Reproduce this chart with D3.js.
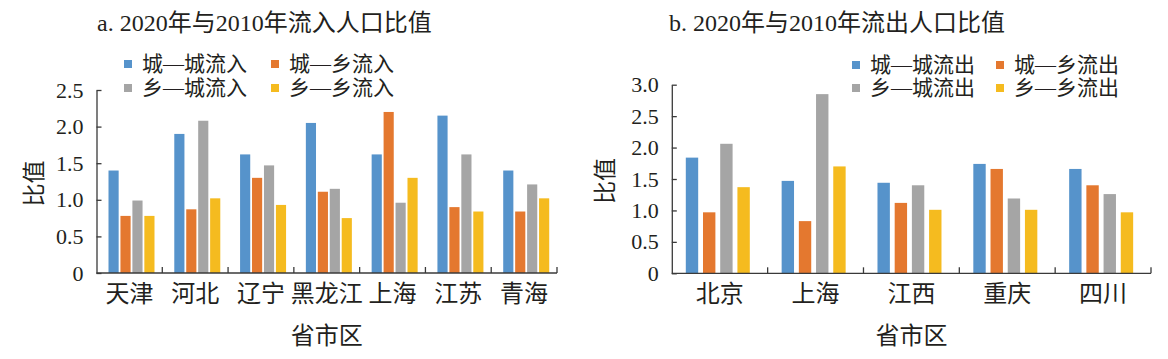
<!DOCTYPE html>
<html>
<head>
<meta charset="utf-8">
<script src="https://cdn.jsdelivr.net/npm/d3@7"></script>
<style>
body { margin: 0; background: #fff; }
svg text { font-family: "Liberation Serif", "Noto Sans CJK SC", serif; fill: #231f20; }
.axis path, .axis line { stroke: #3a3a3a; stroke-width: 1.3px; }
</style>
</head>
<body>
<svg id="chart" width="1168" height="359"></svg>
<script>

// panel a: inflow
var citiesIn = ["天津", "河北", "辽宁", "黑龙江", "上海", "江苏", "青海"];
var inUU = [1.40, 1.90, 1.62, 2.05, 1.62, 2.15, 1.40];
var inUR = [0.78, 0.87, 1.30, 1.11, 2.20, 0.90, 0.84];
var inRU = [0.99, 2.08, 1.47, 1.15, 0.96, 1.62, 1.21];
var inRR = [0.78, 1.02, 0.93, 0.75, 1.30, 0.84, 1.02];
var namesIn = ["城—城流入", "城—乡流入", "乡—城流入", "乡—乡流入"];
var ticksIn = [0, 0.5, 1.0, 1.5, 2.0, 2.5];

// panel b: outflow
var citiesOut = ["北京", "上海", "江西", "重庆", "四川"];
var outUU = [1.84, 1.47, 1.44, 1.74, 1.66];
var outUR = [0.97, 0.83, 1.12, 1.66, 1.40];
var outRU = [2.06, 2.85, 1.40, 1.19, 1.26];
var outRR = [1.37, 1.70, 1.01, 1.01, 0.97];
var namesOut = ["城—城流出", "城—乡流出", "乡—城流出", "乡—乡流出"];
var ticksOut = [0, 0.5, 1.0, 1.5, 2.0, 2.5, 3.0];

var colors = ["#5693cb", "#e4782f", "#a5a5a5", "#f5bb1f"];

var svg = d3.select("#chart");
var fmt = function(d) { return d === 0 ? "0" : d3.format(".1f")(d); };

function drawPanel(p) {
  var g = svg.append("g");

  var x = d3.scaleBand().domain(p.cats).range([p.left, p.right]);
  var inner = d3.scaleBand().domain(d3.range(4))
      .range(p.inner).paddingInner(p.pad);
  var y = d3.scaleLinear().domain([0, p.max]).range([p.bottom, p.top]);

  /// bars
  p.series.forEach(function(vals, s) {
    g.append("g").selectAll("rect")
      .data(vals)
      .join("rect")
        .attr("x", function(d, i) { return x(p.cats[i]) + inner(s); })
        .attr("y", function(d) { return y(d); })
        .attr("width", inner.bandwidth())
        .attr("height", function(d) { return p.bottom - y(d); })
        .attr("fill", colors[s]);
  });

  /// y axis, ticks inside
  var ya = g.append("g")
      .attr("class", "axis")
      .attr("transform", "translate(" + p.left + ",0)")
      .call(d3.axisLeft(y).tickValues(p.ticks).tickFormat(fmt).tickSizeInner(-5).tickSizeOuter(0).tickPadding(13));
  ya.selectAll("text").style("font-size", "22px");

  /// x axis line with tick marks at band edges
  var edges = p.cats.map(function(c) { return x(c); }).concat([p.right]);
  var xa = g.append("g").attr("class", "axis");
  xa.append("line")
      .attr("x1", p.left).attr("x2", p.right)
      .attr("y1", p.bottom).attr("y2", p.bottom);
  xa.selectAll(".tk")
    .data(edges.slice(1))
    .join("line")
      .attr("class", "tk")
      .attr("x1", function(d) { return d; }).attr("x2", function(d) { return d; })
      .attr("y1", p.bottom).attr("y2", p.bottom - 6);

  /// category labels
  var xl = g.append("g")
      .attr("transform", "translate(0," + p.bottom + ")")
      .call(d3.axisBottom(x).tickSize(0).tickPadding(12));
  xl.select(".domain").remove();
  xl.selectAll("text").style("font-size", "24px");

  /// axis titles
  g.append("text")
      .attr("x", (p.left + p.right) / 2).attr("y", 344)
      .attr("text-anchor", "middle")
      .style("font-size", "24px")
      .text("省市区");
  g.append("text")
      .attr("transform", "translate(" + (p.ylabX + 17) + "," + ((p.top + p.bottom) / 2 + 2) + ") rotate(-90)")
      .attr("text-anchor", "middle")
      .style("font-size", "23px")
      .text("比值");

  /// title
  g.append("text")
      .attr("x", p.titleX).attr("y", 31)
      .style("font-size", "24px")
      .text(p.title);

  /// legend 2x2
  var lg = g.append("g");
  p.names.forEach(function(n, i) {
    var col = i % 2, row = Math.floor(i / 2);
    var lx = p.legX[col], ly = p.legY[row];
    lg.append("rect")
        .attr("x", lx).attr("y", ly - 4)
        .attr("width", 8).attr("height", 8)
        .attr("fill", colors[i]);
    lg.append("text")
        .attr("x", lx + 18).attr("y", ly)
        .attr("dy", "0.35em")
        .style("font-size", "21px")
        .text(n);
  });
}

drawPanel({
  cats: citiesIn, series: [inUU, inUR, inRU, inRR], names: namesIn,
  ticks: ticksIn, max: 2.5,
  left: 96.5, right: 557, top: 90, bottom: 273,
  inner: [12, 58], pad: 0.15,
  ylabX: 25, titleX: 97,
  title: "a. 2020年与2010年流入人口比值",
  legX: [124, 271], legY: [64, 88]
});

drawPanel({
  cats: citiesOut, series: [outUU, outUR, outRU, outRR], names: namesOut,
  ticks: ticksOut, max: 3.0,
  left: 671.8, right: 1151, top: 84.7, bottom: 273.3,
  inner: [14, 78], pad: 0.28,
  ylabX: 596, titleX: 669,
  title: "b. 2020年与2010年流出人口比值",
  legX: [852, 996], legY: [65, 88]
});

</script>
</body>
</html>
